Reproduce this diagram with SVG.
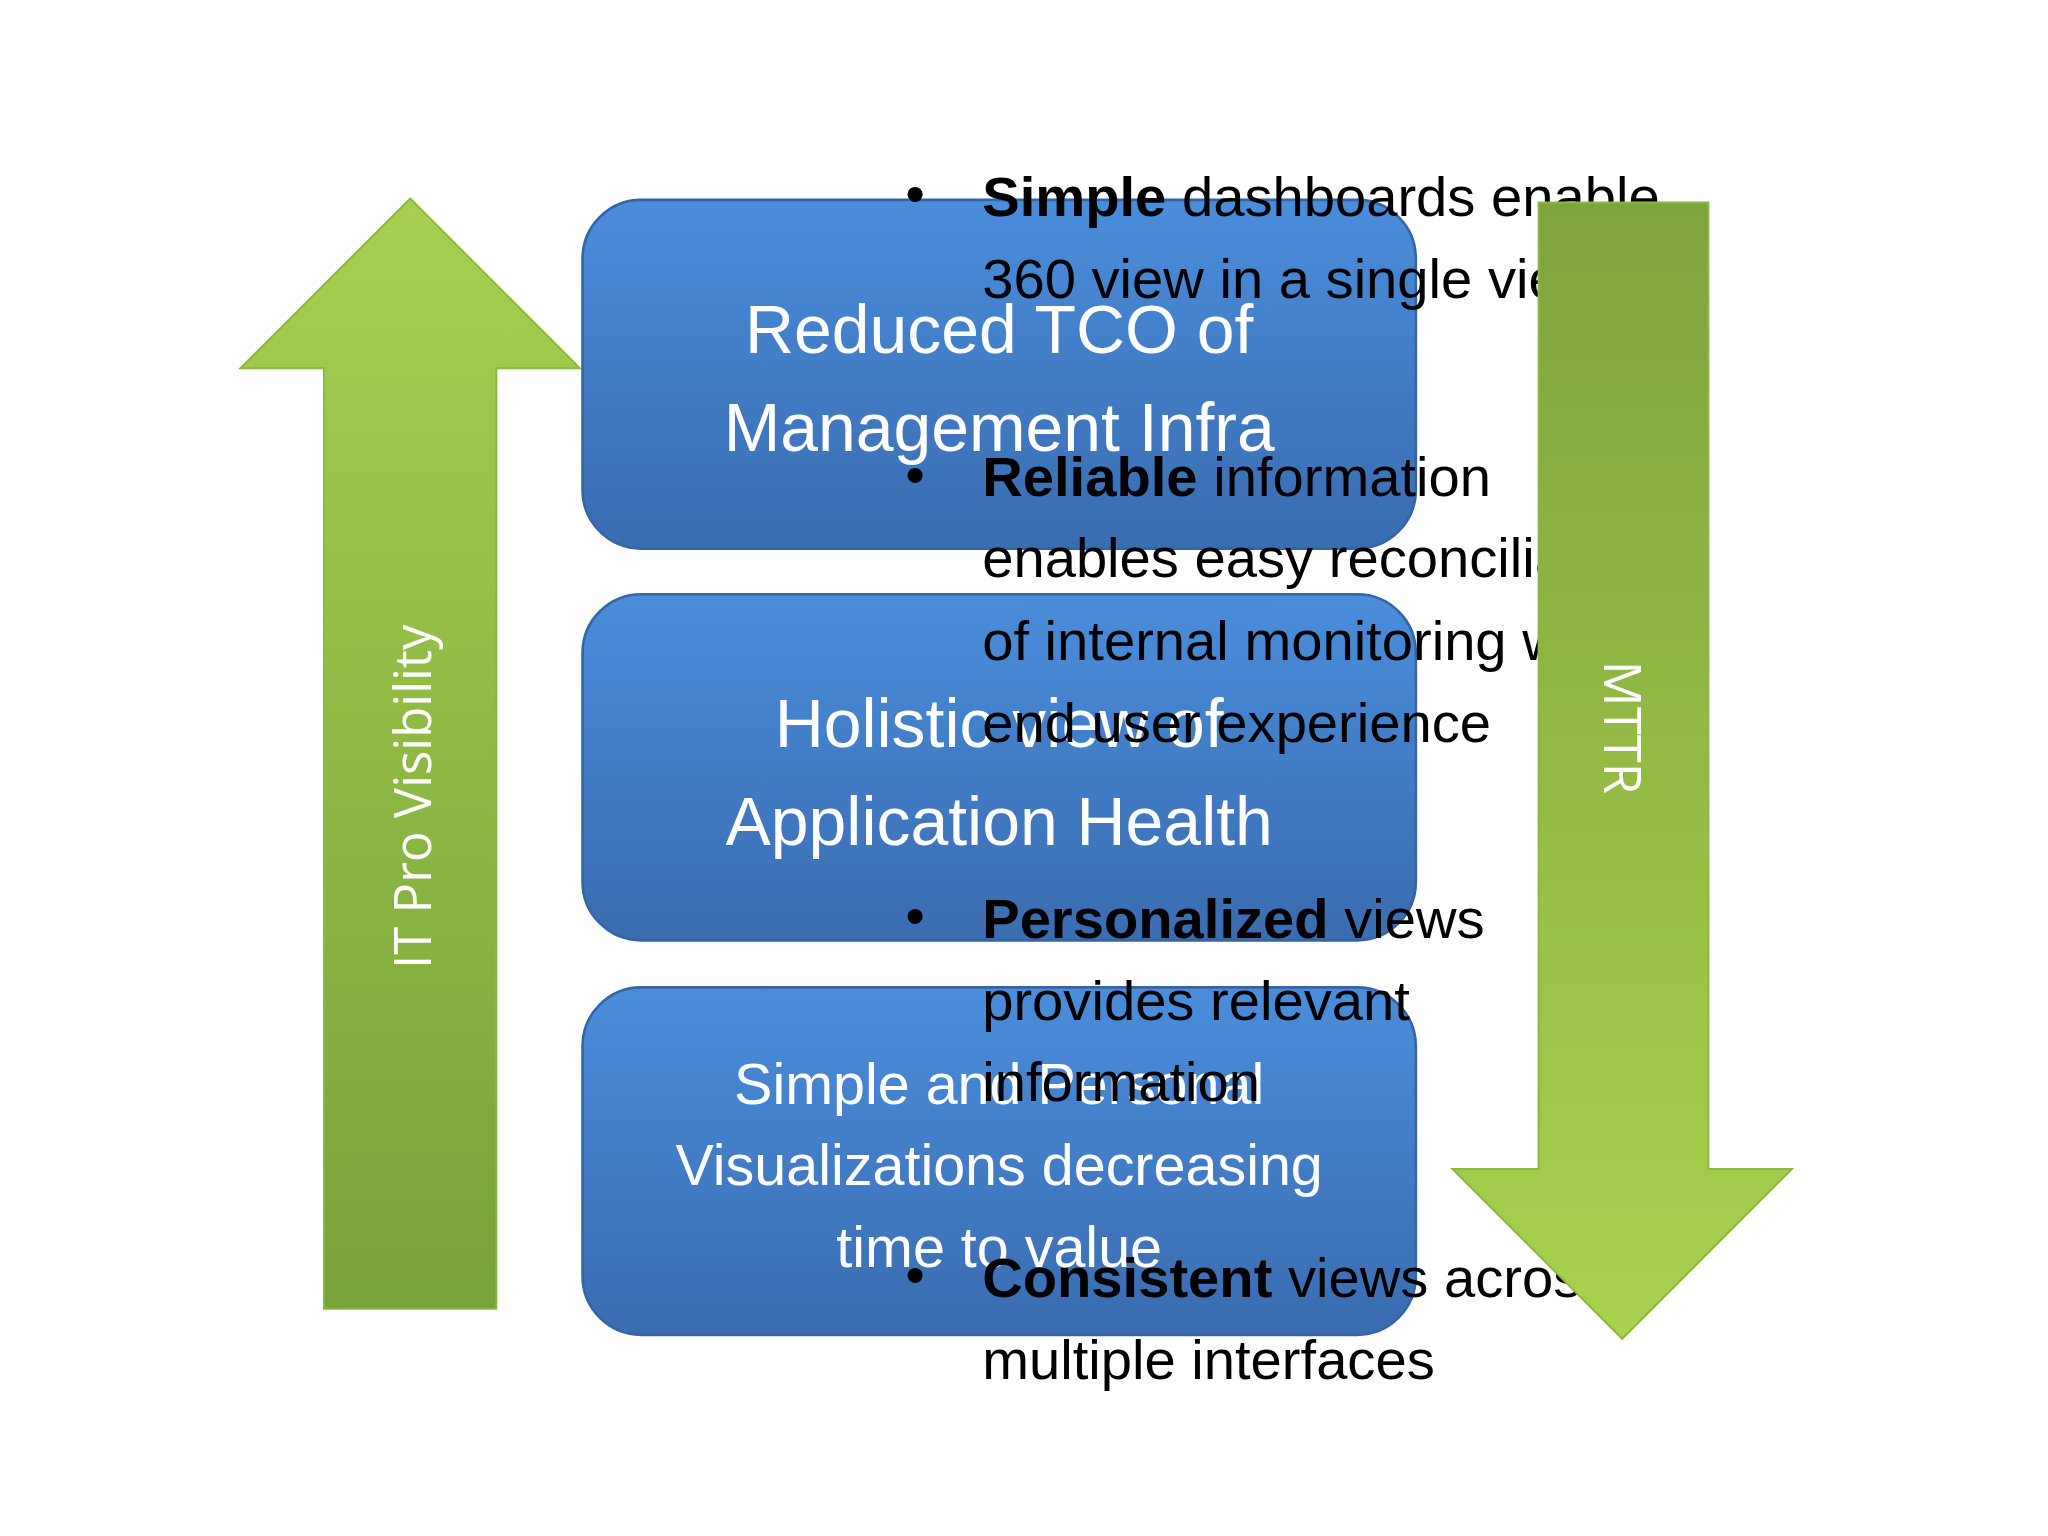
<svg xmlns="http://www.w3.org/2000/svg" width="2048" height="1536" viewBox="0 0 2048 1536">
<defs>
<linearGradient id="blue" x1="0" y1="0" x2="0" y2="1"><stop offset="0" stop-color="#4a8ddb"/><stop offset="1" stop-color="#3a6cb0"/></linearGradient>
<linearGradient id="gup" x1="0" y1="0" x2="0" y2="1"><stop offset="0" stop-color="#a6d04e"/><stop offset="1" stop-color="#78a23a"/></linearGradient>
<linearGradient id="gdn" x1="0" y1="0" x2="0" y2="1"><stop offset="0" stop-color="#7ea43c"/><stop offset="1" stop-color="#a8d24e"/></linearGradient>
<style>
.box{fill:url(#blue);stroke:#3565a5;stroke-width:2}
.bt{font-family:"Liberation Sans",Arial,sans-serif;fill:#fff;text-anchor:middle}
.tx{font-family:"Liberation Sans",Arial,sans-serif;fill:#000;font-size:43px}
</style>
</defs>
<rect width="2048" height="1536" fill="#fff"/>
<g transform="scale(1.30612)">
<g id="up-arrow"><polygon points="314,152 444,282 380,282 380,1002 248,1002 248,282 184,282" fill="url(#gup)" stroke="#8cb840" stroke-width="1.5"/>
<text transform="translate(330,610) rotate(-90)" text-anchor="middle" font-family="Open Sans,sans-serif" font-size="39" fill="#fff">IT Pro Visibility</text></g>
<g id="box1"><rect class="box" x="446" y="153" width="638" height="267" rx="45"/>
<text class="bt" font-size="52"><tspan x="765" y="270">Reduced TCO of</tspan><tspan x="765" y="345">Management Infra</tspan></text></g>
<g id="box2"><rect class="box" x="446" y="455" width="638" height="265" rx="45"/>
<text class="bt" font-size="52"><tspan x="765" y="572">Holistic view of</tspan><tspan x="765" y="647">Application Health</tspan></text></g>
<g id="box3"><rect class="box" x="446" y="756" width="638" height="266" rx="45"/>
<text class="bt" font-size="44"><tspan x="765" y="845">Simple and Personal</tspan><tspan x="765" y="907">Visualizations decreasing</tspan><tspan x="765" y="970">time to value</tspan></text></g>
<g id="bullets" class="tx">
<text x="693" y="163">•</text><text x="752" y="165"><tspan font-weight="bold">Simple</tspan> dashboards enable</text><text x="752" y="228">360 view in a single view</text>
<text x="693" y="378">•</text><text x="752" y="380"><tspan font-weight="bold">Reliable</tspan> information</text><text x="752" y="442">enables easy reconciliation</text><text x="752" y="505">of internal monitoring with</text><text x="752" y="568">end user experience</text>
<text x="693" y="716">•</text><text x="752" y="718"><tspan font-weight="bold">Personalized</tspan> views</text><text x="752" y="781">provides relevant</text><text x="752" y="843">information</text>
<text x="693" y="991">•</text><text x="752" y="993"><tspan font-weight="bold">Consistent</tspan> views across</text><text x="752" y="1056">multiple interfaces</text>
</g>
<g id="down-arrow"><polygon points="1178,155 1308,155 1308,895 1372,895 1242,1025 1112,895 1178,895" fill="url(#gdn)" stroke="#8cb840" stroke-width="1.5"/>
<text transform="translate(1228,557) rotate(90)" text-anchor="middle" font-family="Open Sans,sans-serif" font-size="39" fill="#fff">MTTR</text></g>
</g>
</svg>
